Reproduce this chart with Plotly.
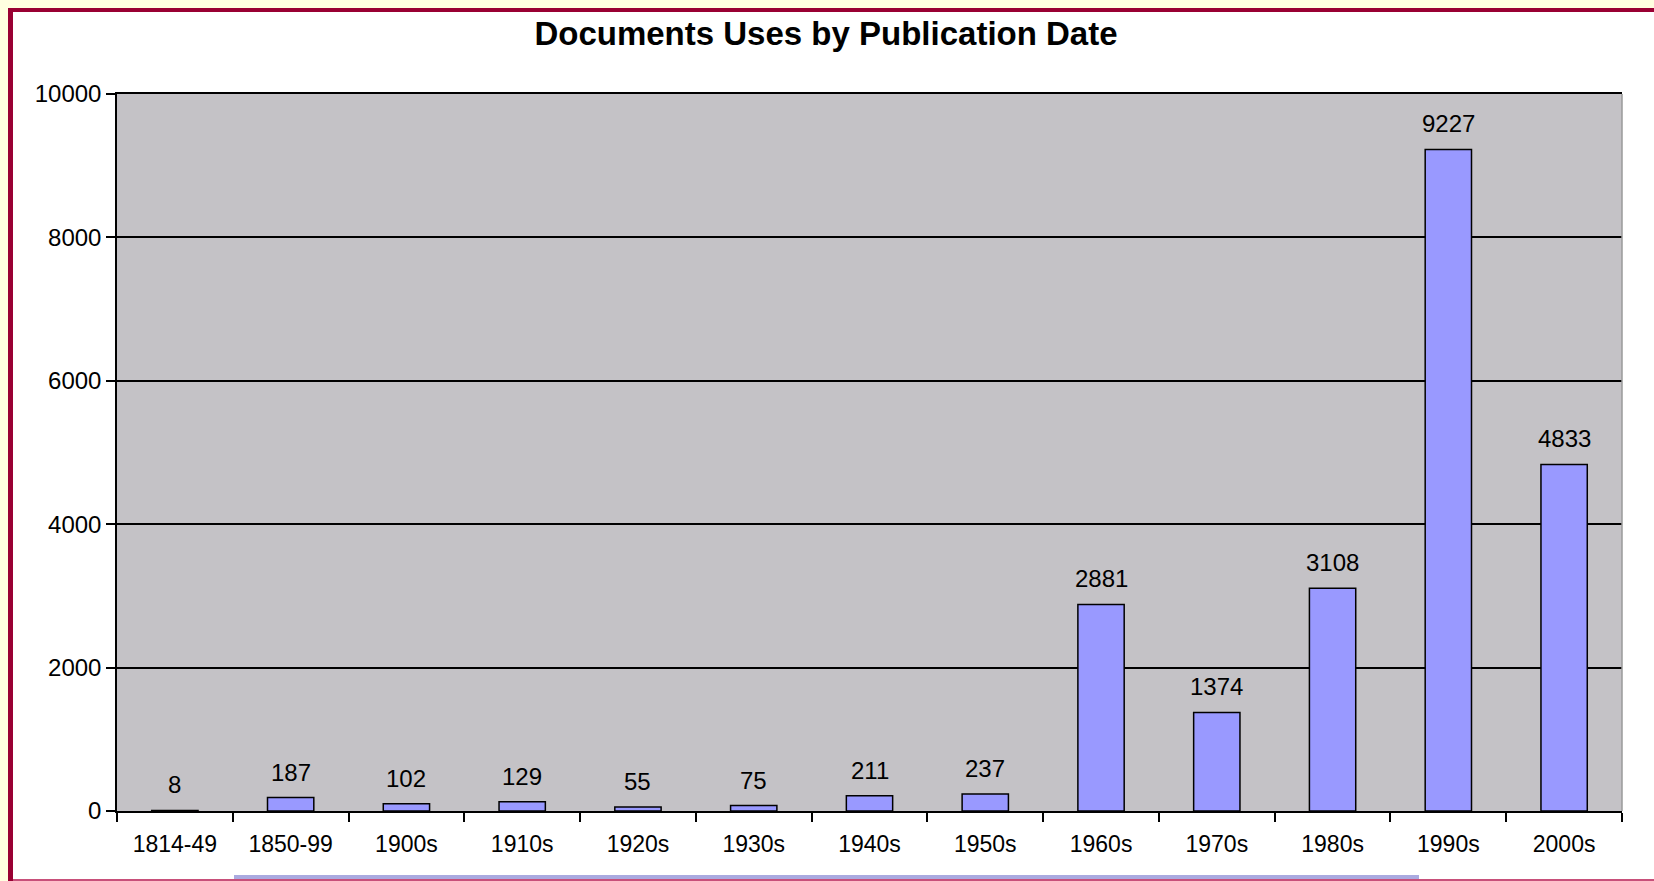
import plotly.graph_objects as go

categories = ["1814-49", "1850-99", "1900s", "1910s", "1920s", "1930s", "1940s",
              "1950s", "1960s", "1970s", "1980s", "1990s", "2000s"]
uses = [8, 187, 102, 129, 55, 75, 211, 237, 2881, 1374, 3108, 9227, 4833]
y_ticks = [0, 2000, 4000, 6000, 8000, 10000]

# the page body keeps an 8px margin on the left and top, so the figure is 8px smaller
W, H = 1646, 873
L, R, T, B = 109, 1614, 86, 803  # plot area in figure pixels
FONT = "Liberation Sans, Arial, sans-serif"

def px(x):
    return (x - L) / (R - L)

def py(y):
    return (B - y) / (B - T)

fig = go.Figure()
fig.add_trace(go.Bar(
    x=categories, y=uses, width=0.40,
    marker=dict(color="#9999FF", line=dict(color="black", width=1.5)),
    hoverinfo="x+y",
))

annotations = [
    dict(x=c, y=v, xref="x", yref="y", text=str(v), showarrow=False,
         yanchor="bottom", yshift=10, font=dict(family=FONT, size=24, color="black"))
    for c, v in zip(categories, uses)
]

shapes = [
    # dark red frame (left and top)
    dict(type="rect", xref="paper", yref="paper", x0=px(0), x1=px(5), y0=py(H), y1=py(0),
         fillcolor="#990033", line_width=0, layer="below"),
    dict(type="rect", xref="paper", yref="paper", x0=px(0), x1=px(W), y0=py(4), y1=py(0),
         fillcolor="#990033", line_width=0, layer="below"),
    # bottom pink line and purple strip
    dict(type="rect", xref="paper", yref="paper", x0=px(5), x1=px(W), y0=py(H), y1=py(871),
         fillcolor="#C8507A", line_width=0, layer="below"),
    dict(type="rect", xref="paper", yref="paper", x0=px(226), x1=px(1411), y0=py(871), y1=py(867),
         fillcolor="#AAAAE0", line_width=0, layer="below"),
    # right plot border
    dict(type="line", xref="paper", yref="paper", x0=1, x1=1, y0=0, y1=1,
         line=dict(color="#9A9A9A", width=1.5)),
]

fig.update_layout(
    width=W, height=H, autosize=False,
    margin=dict(l=L, r=W - R, t=T, b=H - B, pad=0),
    paper_bgcolor="white", plot_bgcolor="#C4C2C6",
    title=dict(text="<b>Documents Uses by Publication Date</b>", x=818 / W, xref="container",
               xanchor="center", y=1 - 25 / H, yref="container", yanchor="middle",
               font=dict(family=FONT, size=33, color="black")),
    font=dict(family=FONT, size=24, color="black"),
    showlegend=False,
    annotations=annotations, shapes=shapes,
)
fig.update_xaxes(
    showline=True, linecolor="black", linewidth=1.5, mirror=True,
    ticks="outside", tickson="boundaries", ticklen=9, tickcolor="black", tickwidth=1.5,
    ticklabelstandoff=12,
    showgrid=False, tickfont=dict(family=FONT, size=23, color="black"),
)
fig.update_yaxes(
    range=[0, 10000], tickvals=y_ticks, ticktext=[str(t) for t in y_ticks],
    showline=True, linecolor="black", linewidth=1.5,
    ticks="outside", ticklen=9, tickcolor="black", tickwidth=1.5,
    showgrid=True, gridcolor="black", gridwidth=1.5, zeroline=False,
    tickfont=dict(family=FONT, size=24, color="black"),
)

page_js = (
    "document.body.style.backgroundColor='#FFFFE0';"
    "document.body.style.margin='8px 0 0 8px';"
    "document.documentElement.style.overflow='hidden';"
)
fig.write_html("out.html", post_script=page_js)
